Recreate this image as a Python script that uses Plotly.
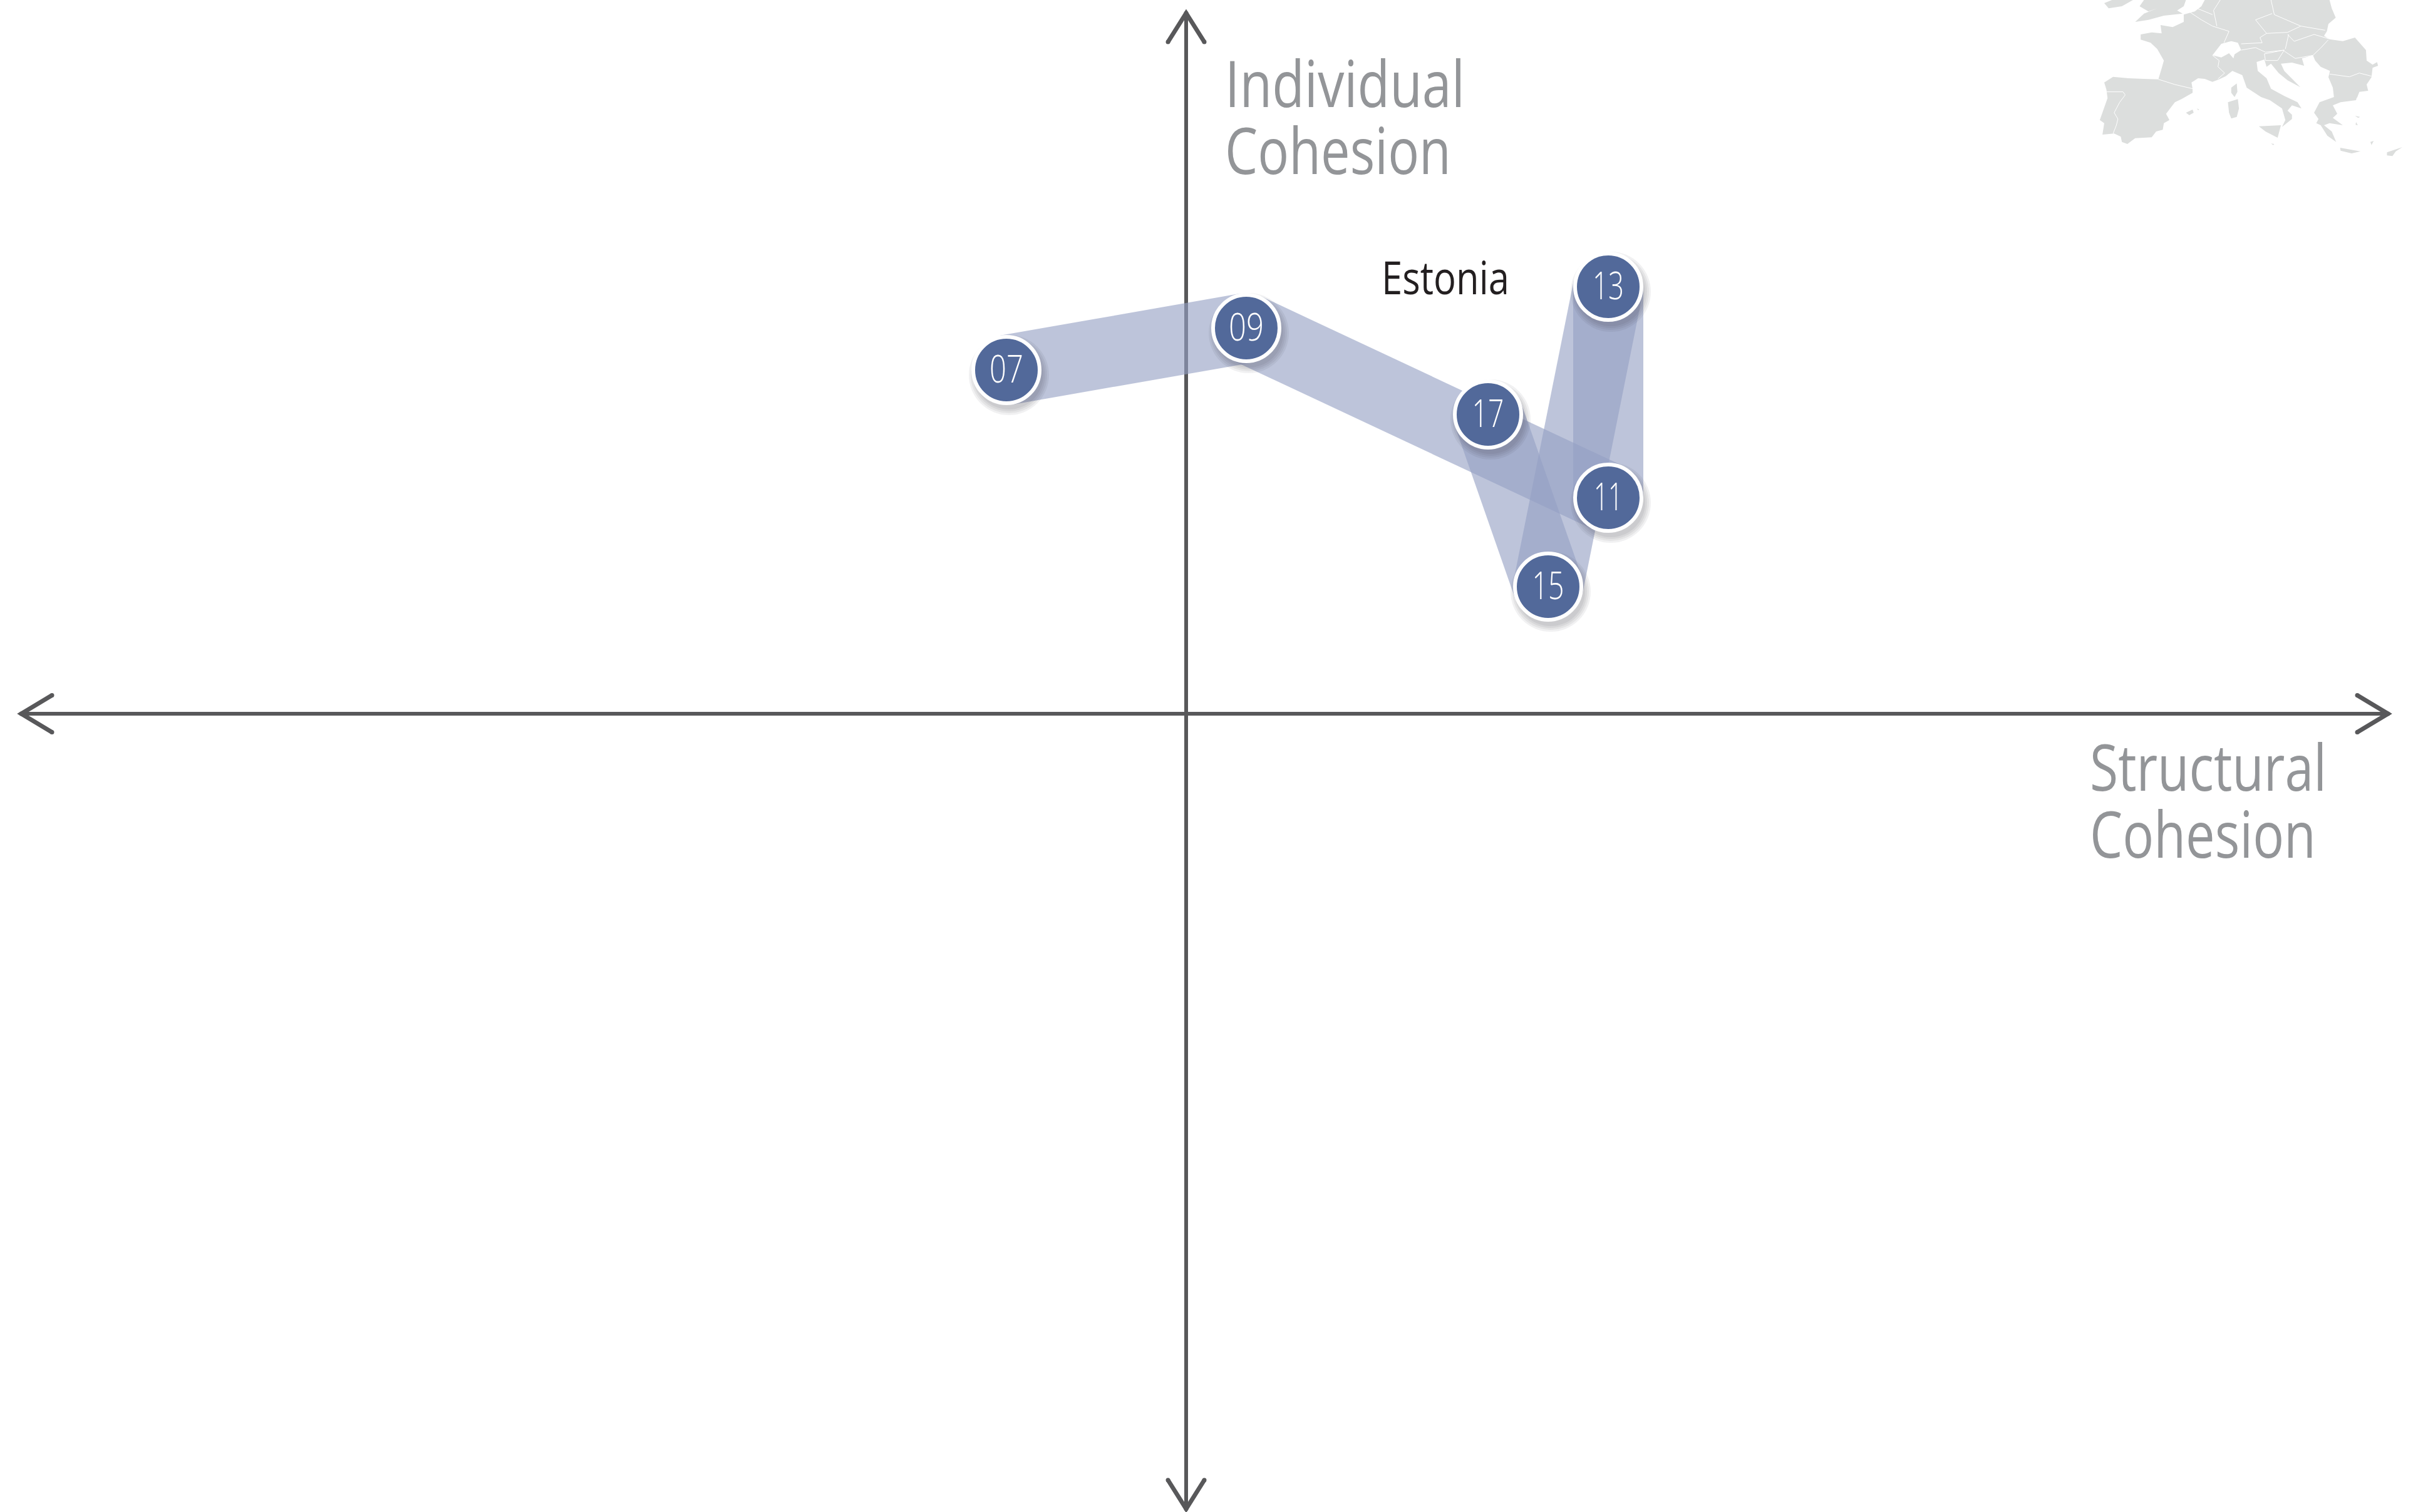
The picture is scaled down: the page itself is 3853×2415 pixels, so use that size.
import plotly.graph_objects as go

# ---- data (axis units: origin at axis crossing) ----
years = ["07", "09", "11", "13", "15", "17"]
structural = [-0.287, 0.096, 0.674, 0.674, 0.578, 0.482]
individual = [0.549, 0.616, 0.345, 0.682, 0.203, 0.478]
country = "Estonia"

W, H = 3853, 2415
X0, Y0 = 1894, 1140     # pixel of the axis crossing
UNIT = 1000.0

INK = "#58585a"
GREY = "#939598"
BLUE = "#52699a"
BAND = "rgba(148,160,195,0.62)"
LAND = "#dcdedd"
FONT = "Open Sans"

# decorative locator map (crop units)
MAIN = [(640,0),(1190,0),(1200,40),(1218,85),(1185,115),(1178,150),(1165,172),(1190,188),(1250,197),(1305,180),(1330,210),(1355,240),(1358,290),(1385,310),(1405,298),(1410,315),(1385,325),(1380,370),(1358,405),(1365,435),(1325,440),(1315,468),(1210,465),(1205,420),(1185,370),(1192,340),(1150,320),(1125,290),(1115,265),(1065,280),(1075,315),(1020,300),(970,305),(985,340),(1058,418),(1000,385),(960,350),(925,305),(905,320),(895,285),(860,297),(865,340),(905,375),(925,425),(985,460),(1045,490),(1063,520),(1020,505),(1000,530),(1020,550),(1020,570),(995,590),(975,608),(990,575),(975,520),(920,480),(880,465),(815,420),(795,360),(750,340),(720,365),(690,380),(660,392),(625,378),(595,375),(565,395),(570,425),(570,445),(520,475),(490,490),(450,545),(465,575),(440,590),(435,622),(405,630),(385,658),(310,662),(275,690),(250,680),(245,655),(215,640),(162,645),(170,590),(150,575),(185,470),(180,430),(170,395),(210,368),(280,375),(350,378),(415,380),(432,320),(440,290),(410,235),(380,205),(335,190),(335,165),(385,155),(430,160),(425,120),(480,130),(530,105),(530,70),(580,55),(610,30),(625,0)]
ISLANDS = [
    [(170,15),(190,40),(250,30),(300,0),(205,0)],
    [(330,30),(350,0),(540,0),(530,30),(500,50),(525,65),(440,75),(370,95),(310,105),(350,65),(410,40),(370,55)],
    [(745,420),(770,400),(773,440),(760,465),(745,445)],
    [(730,490),(775,475),(780,520),(770,560),(745,568),(735,540)],
    [(870,605),(970,600),(955,660),(900,630)],
    [(925,688),(940,690),(935,695)],
    [(540,540),(570,525),(575,540),(555,552)],
    [(590,520),(600,525),(595,528)],
    [(1238,708),(1330,725),(1290,735),(1240,722)],
    [(1450,730),(1520,705),(1490,725),(1475,748),(1450,745)],
    [(1120,540),(1145,490),(1210,465),(1315,460),(1310,480),(1240,490),(1205,505),(1225,545),(1205,565),(1250,600),(1190,590),(1165,600),(1200,630),(1220,680),(1180,650),(1150,600),(1130,590),(1140,570)],
    [(1305,555),(1328,560),(1320,565)],
    [(1375,680),(1390,675),(1380,695)],
    [(1310,585),(1318,600),(1308,598)],
]
SWISS = [(660,265),(700,210),(745,197),(775,205),(790,240),(760,260),(755,280),(735,255),(700,275)]
BORDERS = [
    [(415,380),(490,405),(570,425)],
    [(180,440),(255,440),(265,455),(240,490),(215,540),(232,570),(225,600),(210,640)],
    [(560,60),(610,95),(660,125),(735,150),(712,205)],
    [(590,40),(660,70)],
    [(695,0),(665,50),(680,125)],
    [(660,265),(690,290),(685,320),(715,350),(685,378)],
    [(790,240),(855,228),(900,250),(985,240)],
    [(790,210),(885,205),(875,180),(905,160)],
    [(905,160),(855,95),(930,65)],
    [(925,0),(940,70)],
    [(940,70),(1060,125)],
    [(905,160),(1000,155),(1060,125)],
    [(1060,125),(1170,145)],
    [(1000,165),(1030,198),(1120,165),(1185,185)],
    [(1005,165),(990,235)],
    [(895,258),(985,240),(955,290),(900,290),(895,258)],
    [(985,245),(1035,280),(1115,265)],
    [(1185,190),(1150,230),(1115,265)],
    [(1190,355),(1280,368),(1325,350),(1380,365)],
]

def ux(px): return (px - X0) / UNIT
def uy(py): return (Y0 - py) / UNIT
def mx(z): return ux(3300 + z * 0.3527)
def my(z): return uy(z / 3.0)

def path(polys):
    xs, ys = [], []
    for poly in polys:
        xs += [mx(p[0]) for p in poly] + [None]
        ys += [my(p[1]) for p in poly] + [None]
    return xs, ys

fig = go.Figure()

# map
x_, y_ = path([MAIN] + ISLANDS)
fig.add_trace(go.Scatter(x=x_, y=y_, mode="lines", fill="toself", fillcolor=LAND,
                         line=dict(width=0, color=LAND), hoverinfo="skip"))
x_, y_ = path([SWISS])
fig.add_trace(go.Scatter(x=x_, y=y_, mode="lines", fill="toself", fillcolor="white",
                         line=dict(width=0, color="white"), hoverinfo="skip"))
x_, y_ = path(BORDERS)
fig.add_trace(go.Scatter(x=x_, y=y_, mode="lines", line=dict(width=1, color="white"),
                         hoverinfo="skip"))

# axes with open arrow heads
xl, xr, yb, yt = ux(34), ux(3813), uy(2410), uy(21)
axis_paths = [
    ([xl, xr], [0, 0]),
    ([0, 0], [yb, yt]),
    ([xl + .049, xl, xl + .049], [.0295, 0, -.0295]),
    ([xr - .049, xr, xr - .049], [.0295, 0, -.0295]),
    ([-.029, 0, .029], [yt - .046, yt, yt - .046]),
    ([-.029, 0, .029], [yb + .046, yb, yb + .046]),
]
for i, (ax, ay) in enumerate(axis_paths):
    head = i >= 2
    fig.add_trace(go.Scatter(x=ax, y=ay, mode="lines+markers" if head else "lines",
                             line=dict(color=INK, width=7 if head else 6),
                             marker=dict(size=7, color=INK, line=dict(width=0)),
                             hoverinfo="skip"))

# ribbon: one translucent band per period
for i in range(len(years) - 1):
    fig.add_trace(go.Scatter(x=structural[i:i + 2], y=individual[i:i + 2], mode="lines",
                             line=dict(color=BAND, width=112), hoverinfo="skip"))

# soft drop shadows
for s in (128, 122, 116, 110):
    fig.add_trace(go.Scatter(x=[v + .004 for v in structural], y=[v - .008 for v in individual],
                             mode="markers", hoverinfo="skip",
                             marker=dict(size=s, color="rgba(60,60,75,0.07)", line=dict(width=0))))

# year badges
fig.add_trace(go.Scatter(x=structural, y=individual, mode="markers+text", text=years,
                         textposition="middle center",
                         textfont=dict(family=FONT, size=60, color="white", weight=300),
                         marker=dict(size=106, color=BLUE, line=dict(color="white", width=6)),
                         hoverinfo="skip"))

def label(txt, px, base, size, color):
    fig.add_annotation(x=ux(px), y=uy(base + size * 0.30), text=txt, showarrow=False,
                       xanchor="left", yanchor="bottom", borderpad=0, align="left",
                       font=dict(family=FONT, size=size, color=color))

label("Individual<br>Cohesion", 1955, 278, 102, GREY)
label("Structural<br>Cohesion", 3336, 1370, 102, GREY)
label(country, 2205, 471, 74, "#231f20")

fig.update_layout(
    width=W, height=H, margin=dict(l=0, r=0, t=0, b=0), autosize=False,
    paper_bgcolor="white", plot_bgcolor="white", showlegend=False,
    xaxis=dict(visible=False, range=[ux(0), ux(W)], fixedrange=True),
    yaxis=dict(visible=False, range=[uy(H), uy(0)], fixedrange=True),
)

# the reference uses a condensed face: squeeze the real text to its measured widths,
# and tighten the leading of the two-line axis titles
squeeze = """
document.body.style.margin='0';
(function(){
  var wanted={'Individual':383,'Cohesion':361,'Structural':378,'Estonia':204,
              '07':54,'09':56,'11':46,'13':50,'15':51,'17':51};
  var done=false;
  function fit(el,w){el.setAttribute('textLength',w);el.setAttribute('lengthAdjust','spacingAndGlyphs');}
  function run(){
    if(done) return; done=true;
    document.querySelectorAll('svg text').forEach(function(t){
      var lines=t.querySelectorAll('tspan.line');
      if(lines.length>1){
        lines.forEach(function(l){var w=wanted[l.textContent.trim()]; if(w) fit(l,w);});
        var y=parseFloat(lines[0].getAttribute('y'));
        lines[0].setAttribute('y',y+25.6);
        return;
      }
      var key=t.textContent.trim(), w=wanted[key];
      if(w){
        fit(t,w);
        if(key.length===2) t.setAttribute('dy','5');
      }
    });
  }
  setTimeout(run,100);
})();
"""
fig.write_html("out.html", config=dict(displayModeBar=False), post_script=squeeze)
